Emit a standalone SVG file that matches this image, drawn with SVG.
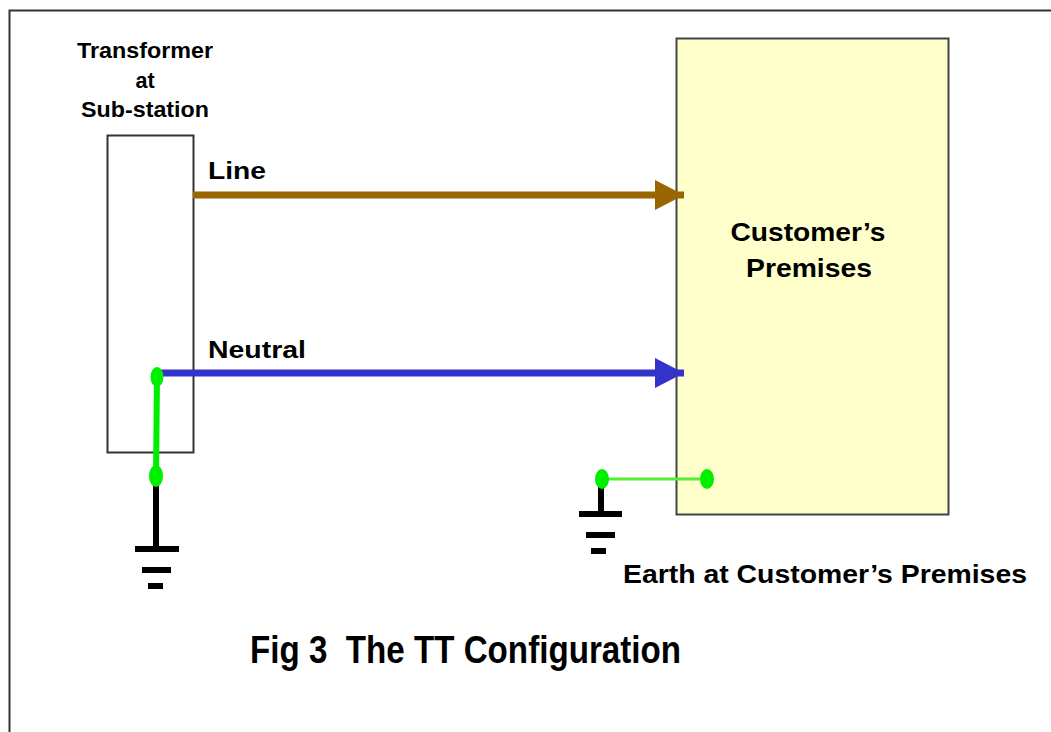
<svg xmlns="http://www.w3.org/2000/svg" width="1051" height="732" viewBox="0 0 1051 732">
<style>
text{font-family:"Liberation Sans",Arial,sans-serif;font-weight:bold;fill:#000}
.gnd{stroke:#000;stroke-width:6;fill:none}
.dot{fill:#00EE00}
</style>
<defs>
<marker id="arrBrown" markerUnits="userSpaceOnUse" markerWidth="30" markerHeight="32" refX="29" refY="15" orient="auto"><path d="M0,0 L29,15 L0,30 Z" fill="#996600"/></marker>
<marker id="arrBlue" markerUnits="userSpaceOnUse" markerWidth="30" markerHeight="32" refX="29" refY="15" orient="auto"><path d="M0,0 L29,15 L0,30 Z" fill="#3333CC"/></marker>
</defs>
<rect width="1051" height="732" fill="#fff"/>
<path d="M9.5,732 V10.5 H1051" fill="none" stroke="#333" stroke-width="2"/>
<g id="transformer">
<rect x="107.5" y="135.5" width="86" height="317" fill="#fff" stroke="#333" stroke-width="2"/>
<text x="145" y="58" font-size="21.5" text-anchor="middle" textLength="136" lengthAdjust="spacingAndGlyphs">Transformer</text>
<text x="145" y="88" font-size="21.5" text-anchor="middle">at</text>
<text x="145" y="117" font-size="21.5" text-anchor="middle" textLength="128" lengthAdjust="spacingAndGlyphs">Sub-station</text>
</g>
<g id="customer">
<rect x="676.5" y="38.5" width="272" height="476" fill="#FFFFCC" stroke="#444" stroke-width="2"/>
<text x="808" y="241" font-size="26" text-anchor="middle" textLength="155" lengthAdjust="spacingAndGlyphs">Customer’s</text>
<text x="809" y="277" font-size="26" text-anchor="middle" textLength="126" lengthAdjust="spacingAndGlyphs">Premises</text>
</g>
<g id="connectors">
<line x1="193" y1="195" x2="684" y2="195" stroke="#996600" stroke-width="7" marker-end="url(#arrBrown)"/>
<line x1="157" y1="373" x2="684" y2="373" stroke="#3333CC" stroke-width="7" marker-end="url(#arrBlue)"/>
<line x1="157" y1="377" x2="156" y2="476" stroke="#00EE00" stroke-width="6"/>
<line x1="602" y1="479" x2="707" y2="479" stroke="#55EE33" stroke-width="3"/>
</g>
<g id="earth-substation">
<line class="gnd" x1="156" y1="476" x2="156" y2="549"/>
<line class="gnd" x1="135" y1="549" x2="179" y2="549"/>
<line class="gnd" x1="142" y1="570" x2="171" y2="570"/>
<line class="gnd" x1="148" y1="586" x2="163" y2="586"/>
<ellipse class="dot" cx="157" cy="377" rx="6.5" ry="10"/>
<ellipse class="dot" cx="156" cy="476" rx="7" ry="11"/>
</g>
<g id="earth-customer">
<line class="gnd" x1="601" y1="479" x2="601" y2="514" stroke-width="5"/>
<line class="gnd" x1="579" y1="514" x2="622" y2="514" stroke-width="5"/>
<line class="gnd" x1="586" y1="535" x2="615" y2="535" stroke-width="5"/>
<line class="gnd" x1="591" y1="551" x2="606" y2="551" stroke-width="5"/>
<ellipse class="dot" cx="602" cy="479" rx="7" ry="10"/>
<ellipse class="dot" cx="707" cy="479" rx="7" ry="10"/>
</g>
<g id="labels">
<text x="208" y="179" font-size="24" textLength="58" lengthAdjust="spacingAndGlyphs">Line</text>
<text x="208" y="358" font-size="24" textLength="98" lengthAdjust="spacingAndGlyphs">Neutral</text>
<text x="623" y="583" font-size="25" textLength="404" lengthAdjust="spacingAndGlyphs">Earth at Customer’s Premises</text>
<text x="250" y="663" font-size="38" textLength="431" lengthAdjust="spacingAndGlyphs" xml:space="preserve">Fig 3  The TT Configuration</text>
</g>
</svg>
